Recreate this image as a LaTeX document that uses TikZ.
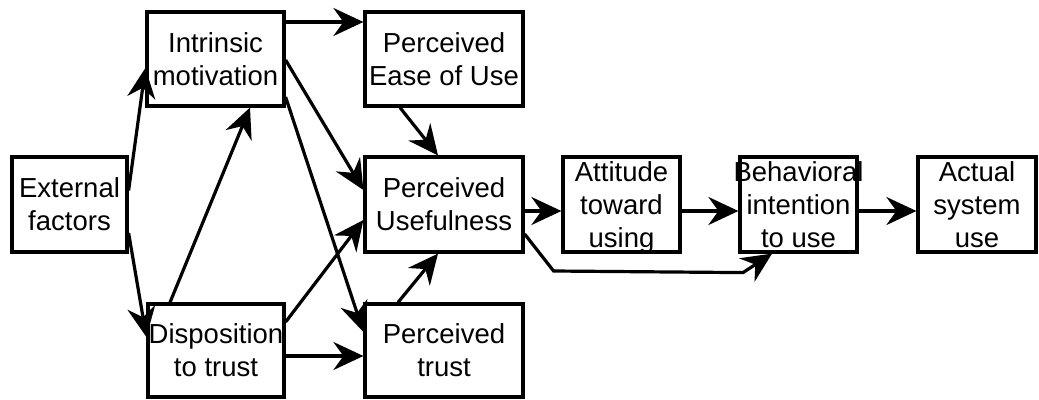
\documentclass[tikz,border=0pt]{standalone}
\usepackage{fontspec}
\setmainfont{Liberation Sans}
\usetikzlibrary{arrows.meta}
\begin{document}
\begin{tikzpicture}[x=1pt,y=-1pt,
  box/.style={draw, line width=3.2pt, rectangle, inner sep=0pt, align=center,
    font=\fontsize{27.5}{33}\selectfont, text depth=0pt},
  arr/.style={line width=3.2pt, -{Stealth[length=30pt,width=28pt,inset=10pt]}}]
\useasboundingbox (0,0) rectangle (1039,399);
% boxes
\node[box, minimum width=115pt, minimum height=95pt] (ext) at (69.5,204.5) {External\\factors};
\node[box, minimum width=137pt, minimum height=94pt] (im) at (215.5,59) {Intrinsic\\motivation};
\node[box, minimum width=136pt, minimum height=93pt] (dt) at (216,350.5) {Disposition\\to trust};
\node[box, minimum width=158pt, minimum height=94pt] (peou) at (444,59) {Perceived\\Ease of Use};
\node[box, minimum width=158pt, minimum height=95pt] (pu) at (444,204.5) {Perceived\\Usefulness};
\node[box, minimum width=158pt, minimum height=93pt] (pt) at (444,350.5) {Perceived\\trust};
\node[box, minimum width=117pt, minimum height=95pt] (att) at (621.5,204.5) {Attitude\\toward\\using};
\node[box, minimum width=117pt, minimum height=95pt] (bi) at (798.5,204.5) {\makebox[0pt]{Behavioral}\\intention\\to use};
\node[box, minimum width=118pt, minimum height=95pt] (asu) at (977,204.5) {Actual\\system\\use};
% connectors
\draw[arr] ([yshift=14pt]ext.east) -- ([yshift=-9pt]im.west);
\draw[arr] ([yshift=-28.5pt]ext.east) -- ([yshift=13.5pt]dt.west);
\draw[arr] ([xshift=-46pt]dt.north) -- ([xshift=34.5pt]im.south);
\draw[arr] ([yshift=37pt]im.east) -- ([yshift=37pt]peou.west);
\draw[arr] ([yshift=-1pt]im.east) -- ([yshift=14.5pt]pu.west);
\draw[arr] ([yshift=-38pt]im.east) -- ([yshift=18.5pt]pt.west);
\draw[arr] ([yshift=28.5pt]dt.east) -- ([yshift=-15.5pt]pu.west);
\draw[arr] ([yshift=-5.5pt]dt.east) -- ([yshift=-5.5pt]pt.west);
\draw[arr] ([xshift=-44pt]peou.south) -- ([xshift=-6pt]pu.north);
\draw[arr] ([xshift=-46pt]pt.north) -- ([xshift=-6pt]pu.south);
\draw[arr] ([yshift=-6.5pt]pu.east) -- ([yshift=-6.5pt]att.west);
\draw[arr] ([yshift=-6.5pt]att.east) -- ([yshift=-6.5pt]bi.west);
\draw[arr] ([yshift=-6.5pt]bi.east) -- ([yshift=-6.5pt]asu.west);
\draw[arr] ([yshift=-29.5pt]pu.east) -- ++(29,37) -- ([xshift=-55.5pt,yshift=-19pt]bi.south) -- ([xshift=-26.5pt]bi.south);
\end{tikzpicture}
\end{document}
